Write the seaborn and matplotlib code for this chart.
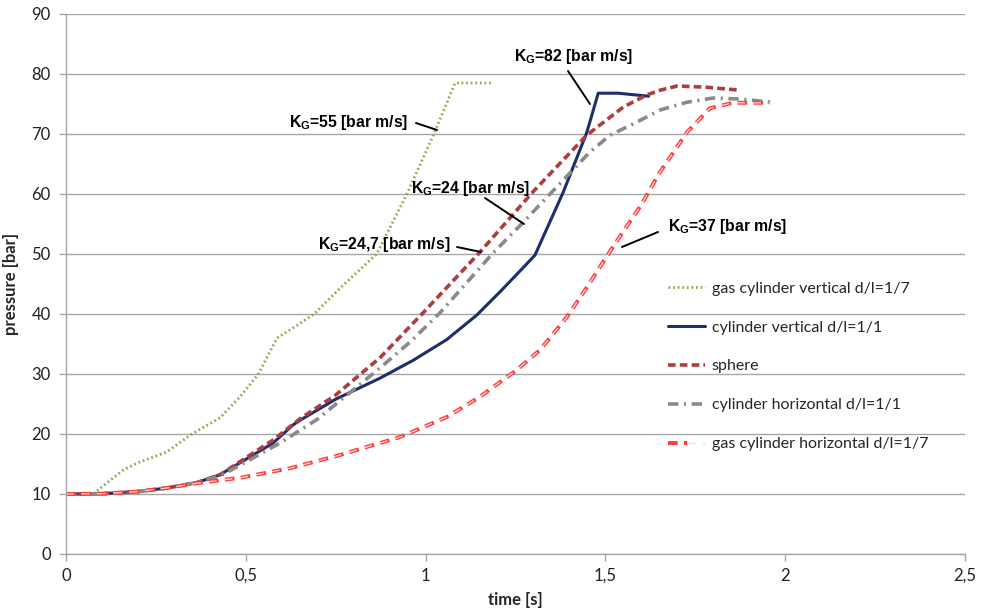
import matplotlib
matplotlib.use("Agg")
import matplotlib.pyplot as plt
import seaborn as sns
import pandas as pd
from matplotlib.legend_handler import HandlerTuple

# ---------------- data ----------------
gas_v_t = [0, 0.075, 0.159, 0.2, 0.28, 0.35, 0.428, 0.484, 0.535, 0.587, 0.64, 0.69, 0.762, 0.864, 0.948, 1.023, 1.082, 1.185]
gas_v_p = [10, 10.0, 14.0, 15.2, 17.0, 20, 22.7, 26.2, 30, 36, 38, 40, 44.3, 50, 60, 70, 78.5, 78.5]

cyl_v_t = [0, 0.1, 0.2, 0.28, 0.364, 0.428, 0.484, 0.576, 0.631, 0.651, 0.75, 0.873, 0.966, 1.058, 1.142, 1.207, 1.271, 1.304, 1.382, 1.448, 1.48, 1.535, 1.62]
cyl_v_p = [10, 10.05, 10.4, 11.0, 11.9, 13.2, 15.2, 18.5, 21.5, 22.3, 25.8, 29.3, 32.3, 35.7, 39.8, 43.7, 47.7, 49.8, 60.2, 70.2, 76.8, 76.8, 76.3]

sphere_t = [0, 0.1, 0.2, 0.28, 0.364, 0.428, 0.484, 0.576, 0.65, 0.75, 0.873, 0.993, 1.151, 1.296, 1.448, 1.55, 1.615, 1.652, 1.70, 1.78, 1.875]
sphere_p = [10, 10.05, 10.4, 11.0, 11.9, 13.2, 15.4, 19.0, 22.5, 26.5, 32.7, 40.2, 50.3, 60.2, 69.8, 74.5, 76.5, 77.3, 78.0, 77.8, 77.3]

cyl_h_t = [0, 0.1, 0.2, 0.28, 0.364, 0.428, 0.484, 0.595, 0.7, 0.873, 0.96, 1.04, 1.185, 1.27, 1.346, 1.457, 1.513, 1.588, 1.652, 1.727, 1.80, 1.883, 1.958]
cyl_h_p = [10, 10.05, 10.4, 11.0, 11.9, 13.0, 14.8, 18.5, 22.5, 31, 35.5, 40.2, 50, 55.2, 60, 67, 69.8, 72, 74, 75.3, 76, 75.8, 75.3]

gas_h_t = [0, 0.1, 0.2, 0.28, 0.364, 0.484, 0.623, 0.762, 0.929, 1.058, 1.151, 1.254, 1.318, 1.393, 1.449, 1.521, 1.6, 1.65, 1.727, 1.791, 1.855, 1.958]
gas_h_p = [10, 10.05, 10.4, 11.0, 11.8, 12.7, 14.3, 16.5, 19.5, 22.8, 26.2, 30.7, 34.0, 39.5, 44.5, 51.2, 58.2, 63.5, 70.3, 74.3, 75.2, 75.2]

labels = ["gas cylinder vertical d/l=1/7", "cylinder vertical d/l=1/1", "sphere",
          "cylinder horizontal d/l=1/1", "gas cylinder horizontal d/l=1/7"]

annotations = ["55", "82", "24", "24,7", "37"]

x_ticks = [0, 0.5, 1, 1.5, 2, 2.5]
x_tick_labels = ["0", "0,5", "1", "1,5", "2", "2,5"]
y_ticks = list(range(0, 100, 10))

# ---------------- style ----------------
sns.set_theme(style="white")
plt.rcParams["font.family"] = ["Lato", "DejaVu Sans"]
plt.rcParams["lines.scale_dashes"] = False
plt.rcParams["mathtext.fontset"] = "custom"
plt.rcParams["mathtext.rm"] = "Liberation Sans:bold"
plt.rcParams["mathtext.it"] = "Liberation Sans:bold"
plt.rcParams["mathtext.bf"] = "Liberation Sans:bold"

fig = plt.figure(figsize=(9.84, 6.11), dpi=100)
ax = fig.add_axes([66/984, 57/611, (965-66)/984, (554-14)/611])

def draw(t, p, **kw):
    df = pd.DataFrame({"t": t, "p": p})
    sns.lineplot(data=df, x="t", y="p", ax=ax, sort=False, estimator=None, **kw)
    return ax.lines[-1]

l1 = draw(gas_v_t, gas_v_p, color="#8fad4f", lw=2.0, linestyle=(0, (1.3, 2.0)))
l2 = draw(cyl_v_t, cyl_v_p, color="#1f2d6b", lw=2.2)
l3 = draw(sphere_t, sphere_p, color="#ad3e3e", lw=2.6, linestyle=(0, (5.5, 3.0)))
l4 = draw(cyl_h_t, cyl_h_p, color="#8a8a8a", lw=2.6, linestyle=(0, (7.5, 4.0, 1.5, 4.0)))
l5a = draw(gas_h_t, gas_h_p, color="#ff3c3c", lw=2.8, linestyle=(0, (7.0, 4.5)))
l5b = draw(gas_h_t, gas_h_p, color="#ffd6d6", lw=0.9, linestyle=(0.5, (6.0, 5.5)))

ax.set_xlim(0, 2.5)
ax.set_ylim(0, 90)
ax.set_xticks(x_ticks)
ax.set_xticklabels(x_tick_labels)
ax.set_yticks(y_ticks)
ax.grid(axis="y", color="#a6a6a6", lw=1.0)
ax.set_axisbelow(True)
for s in ["top", "right"]:
    ax.spines[s].set_visible(False)
for s in ["left", "bottom"]:
    ax.spines[s].set_color("#a6a6a6")
    ax.spines[s].set_linewidth(1.0)
ax.tick_params(axis="both", which="both", direction="out", length=5, width=1.0,
               color="#a6a6a6", labelsize=12, labelcolor="#222222", left=True, bottom=True)
ax.tick_params(axis="x", pad=5)
ax.tick_params(axis="y", pad=6)

ax.set_xlabel("time [s]", fontsize=12, fontweight="bold", family="Lato", labelpad=6)
ax.set_ylabel("pressure [bar]", fontsize=12, fontweight="bold", family="Lato", labelpad=9)

# legend
leg = ax.legend([l1, l2, l3, l4, (l5a, l5b)], labels,
                handler_map={tuple: HandlerTuple(ndivide=None, pad=0)},
                loc="upper left", bbox_to_anchor=((662-66)/899, (554-275)/540),
                frameon=False, prop={"family": "Lato", "size": 11.5},
                labelspacing=1.55, handlelength=2.3, handletextpad=0.4, borderaxespad=0)

# annotations: (text x px, text y px, line from, line to)
def px(x, y):
    return ((x - 66) / 899, (554 - y) / 540)

ann_specs = [
    (289, 123, (416, 123), (437, 130)),
    (514, 57, (568, 71), (590, 104)),
    (411, 189, (485, 198), (524, 224)),
    (318, 244, (457, 247), (481, 252)),
    (668, 226, (658, 232), (622, 247)),
]
for val, (tx, ty, a, b) in zip(annotations, ann_specs):
    ax.text(*px(tx, ty), r"K$_\mathrm{G}$=" + val + " [bar m/s]", transform=ax.transAxes,
            ha="left", va="center", fontsize=11.3, fontweight="bold", family="Liberation Sans",
            color="black")
    ax.plot([px(*a)[0], px(*b)[0]], [px(*a)[1], px(*b)[1]], transform=ax.transAxes,
            color="black", lw=1.4)

fig.savefig("out.png", dpi=100)
